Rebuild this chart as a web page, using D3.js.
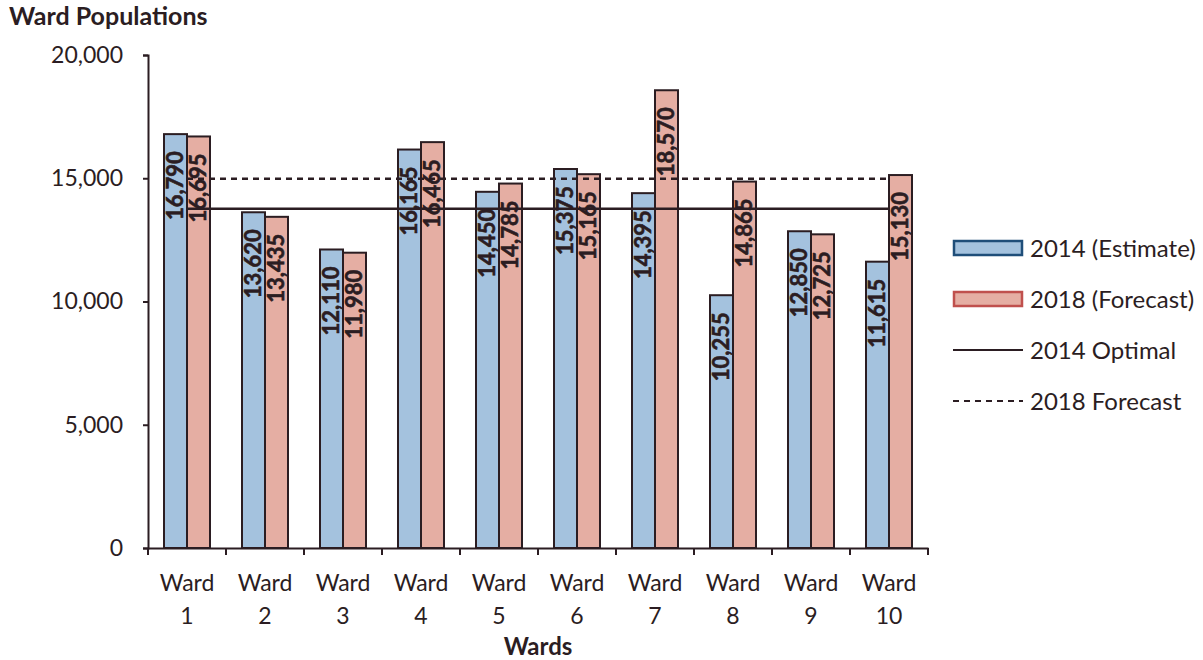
<!DOCTYPE html>
<html>
<head>
<meta charset="utf-8">
<script src="https://cdn.jsdelivr.net/npm/d3@7"></script>
<style>
  body { margin: 0; background: #fff; }
  svg { font-family: Lato, "Open Sans", sans-serif; }
</style>
</head>
<body>
<svg id="chart" width="1203" height="660"></svg>
<script>
// data
const wards = ["1", "2", "3", "4", "5", "6", "7", "8", "9", "10"];
const est2014 = [16790, 13620, 12110, 16165, 14450, 15375, 14395, 10255, 12850, 11615];
const fc2018 = [16695, 13435, 11980, 16465, 14785, 15165, 18570, 14865, 12725, 15130];
const optimal2014 = 13763;
const forecast2018 = 14982;
const yTicks = [0, 5000, 10000, 15000, 20000];

const ink = "#2b1d22";
const svg = d3.select("#chart");

const x = d3.scaleBand().domain(wards).range([148, 928]);
const y = d3.scaleLinear().domain([0, 20000]).range([548, 55]);
const fmt = d3.format(",");
const barW = 23;

// title
svg.append("text")
  .attr("x", 9).attr("y", 25)
  .attr("font-size", 25).attr("font-weight", "bold")
  .attr("fill", ink)
  .text("Ward Populations");

// y axis
const yAxis = svg.append("g")
  .attr("transform", "translate(148,0)")
  .call(d3.axisLeft(y).tickValues(yTicks).tickFormat(fmt).tickSize(5).tickPadding(20));
yAxis.select(".domain").attr("stroke", ink).attr("stroke-width", 2);
yAxis.selectAll(".tick line").attr("stroke", ink).attr("stroke-width", 2);
yAxis.selectAll(".tick text").attr("font-size", 23).attr("fill", ink)
  .attr("font-family", "Lato, sans-serif");

// bars
const groups = svg.append("g").selectAll("g")
  .data(wards)
  .join("g")
  .attr("transform", d => `translate(${x(d) + x.bandwidth() / 2},0)`);

function drawSeries(vals, fill, dx) {
  groups.append("rect")
    .attr("x", dx)
    .attr("y", (d, i) => y(vals[i]))
    .attr("width", barW)
    .attr("height", (d, i) => y(0) - y(vals[i]))
    .attr("fill", fill)
    .attr("stroke", ink)
    .attr("stroke-width", 2);
}
drawSeries(est2014, "#a4c2de", -barW);
drawSeries(fc2018, "#e5aea3", 0);

// x axis
const xAxis = svg.append("g")
  .attr("transform", "translate(0,548)")
  .call(d3.axisBottom(x).tickSize(0).tickFormat(""));
xAxis.select(".domain").attr("stroke", ink).attr("stroke-width", 2);
xAxis.selectAll(".bound")
  .data(d3.range(wards.length + 1))
  .join("line")
  .attr("x1", i => 148 + i * x.step())
  .attr("x2", i => 148 + i * x.step())
  .attr("y1", 0).attr("y2", 7)
  .attr("stroke", ink).attr("stroke-width", 2);

const xl = svg.append("g").selectAll("text")
  .data(wards)
  .join("text")
  .attr("text-anchor", "middle")
  .attr("font-size", 23)
  .attr("fill", ink)
  .attr("transform", d => `translate(${x(d) + x.bandwidth() / 2},0)`);
xl.append("tspan").attr("x", 0).attr("y", 591).text("Ward");
xl.append("tspan").attr("x", 0).attr("y", 624).text(d => d);

svg.append("text")
  .attr("x", (148 + 928) / 2).attr("y", 655)
  .attr("text-anchor", "middle")
  .attr("font-size", 24).attr("font-weight", "bold")
  .attr("fill", ink)
  .text("Wards");

// reference lines, centre of first ward to centre of last
const cx = d => x(d) + x.bandwidth() / 2;
const line = d3.line().x(d => cx(d[0])).y(d => y(d[1]));
const first = wards[0], last = wards[wards.length - 1];
svg.append("path")
  .attr("d", line([[first, optimal2014], [last, optimal2014]]))
  .attr("stroke", ink).attr("stroke-width", 2.5).attr("fill", "none");
svg.append("path")
  .attr("d", line([[first, forecast2018], [last, forecast2018]]))
  .attr("stroke", ink).attr("stroke-width", 2.5).attr("fill", "none")
  .attr("stroke-dasharray", "6,5");

// bar value labels, rotated, inside end
function drawLabels(vals, dx) {
  groups.append("text")
    .attr("transform", (d, i) => `translate(${dx},${y(vals[i]) + 17}) rotate(-90)`)
    .attr("text-anchor", "end")
    .attr("dy", "0.36em")
    .attr("font-size", 22)
    .attr("font-weight", "bold")
    .attr("fill", ink)
    .attr("stroke", ink)
    .attr("stroke-width", 0.6)
    .text((d, i) => fmt(vals[i]));
}
drawLabels(est2014, -barW / 2);
drawLabels(fc2018, barW / 2);

// legend
const legend = [
  { label: "2014 (Estimate)", type: "rect", fill: "#a4c2de", stroke: "#1f4e79" },
  { label: "2018 (Forecast)", type: "rect", fill: "#e5aea3", stroke: "#c0504d" },
  { label: "2014 Optimal", type: "line", dash: null },
  { label: "2018 Forecast", type: "line", dash: "6,5" }
];
const lg = svg.append("g").selectAll("g")
  .data(legend)
  .join("g")
  .attr("transform", (d, i) => `translate(953,${248 + i * 51})`);
lg.filter(d => d.type === "rect").append("rect")
  .attr("x", 1).attr("y", -7).attr("width", 68).attr("height", 14)
  .attr("fill", d => d.fill).attr("stroke", d => d.stroke).attr("stroke-width", 2.5);
lg.filter(d => d.type === "line").append("line")
  .attr("x1", 0).attr("x2", 70).attr("y1", 0).attr("y2", 0)
  .attr("stroke", ink).attr("stroke-width", 2)
  .attr("stroke-dasharray", d => d.dash);
lg.append("text")
  .attr("x", 77).attr("dy", "0.36em")
  .attr("font-size", 24).attr("fill", ink)
  .text(d => d.label);
</script>
</body>
</html>
